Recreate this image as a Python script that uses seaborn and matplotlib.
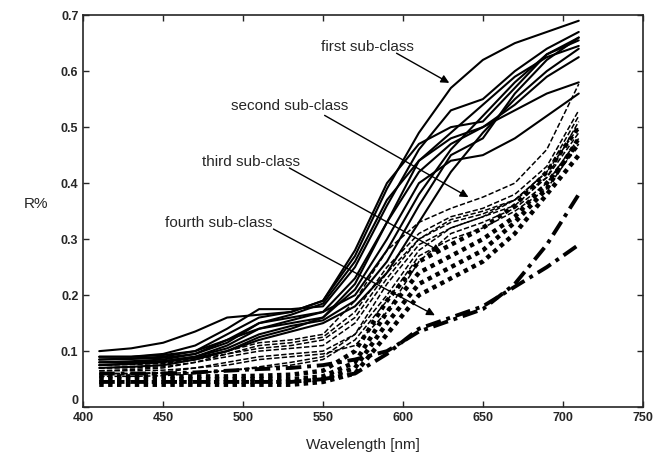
import numpy as np
import pandas as pd
import seaborn as sns
import matplotlib.pyplot as plt

sns.set_style("ticks")
plt.rcParams['font.family'] = ['Liberation Sans', 'DejaVu Sans']

# wavelengths sampled (nm)
wavelength = [410, 430, 450, 470, 490, 510, 530, 550, 570, 590, 610, 630, 650, 670, 690, 710]

# first sub-class (solid)
first_class = [
    [0.100, 0.105, 0.115, 0.135, 0.160, 0.165, 0.170, 0.190, 0.270, 0.390, 0.490, 0.570, 0.620, 0.650, 0.670, 0.690],
    [0.090, 0.090, 0.095, 0.110, 0.140, 0.175, 0.175, 0.180, 0.250, 0.360, 0.460, 0.530, 0.550, 0.600, 0.640, 0.670],
    [0.085, 0.087, 0.090, 0.100, 0.130, 0.160, 0.170, 0.190, 0.280, 0.400, 0.470, 0.500, 0.510, 0.570, 0.630, 0.660],
    [0.080, 0.082, 0.085, 0.095, 0.120, 0.150, 0.165, 0.185, 0.260, 0.370, 0.440, 0.490, 0.540, 0.590, 0.625, 0.645],
    [0.090, 0.090, 0.093, 0.100, 0.120, 0.140, 0.155, 0.170, 0.230, 0.330, 0.420, 0.470, 0.500, 0.530, 0.560, 0.580],
    [0.075, 0.078, 0.082, 0.090, 0.110, 0.140, 0.150, 0.160, 0.210, 0.300, 0.400, 0.440, 0.450, 0.480, 0.520, 0.560],
    [0.085, 0.086, 0.088, 0.095, 0.115, 0.150, 0.160, 0.170, 0.200, 0.280, 0.380, 0.460, 0.520, 0.580, 0.630, 0.655],
    [0.080, 0.080, 0.082, 0.090, 0.105, 0.130, 0.145, 0.155, 0.190, 0.260, 0.360, 0.450, 0.480, 0.560, 0.620, 0.660],
    [0.070, 0.072, 0.075, 0.085, 0.100, 0.120, 0.135, 0.150, 0.180, 0.240, 0.330, 0.420, 0.490, 0.550, 0.600, 0.640],
    [0.075, 0.077, 0.080, 0.088, 0.100, 0.125, 0.140, 0.160, 0.220, 0.330, 0.440, 0.480, 0.500, 0.540, 0.590, 0.625],
]

# second sub-class (dashed)
second_class = [
    [0.070, 0.072, 0.075, 0.085, 0.100, 0.115, 0.120, 0.130, 0.190, 0.280, 0.330, 0.355, 0.375, 0.400, 0.460, 0.577],
    [0.065, 0.067, 0.070, 0.080, 0.095, 0.110, 0.115, 0.125, 0.170, 0.250, 0.310, 0.340, 0.355, 0.380, 0.430, 0.530],
    [0.070, 0.070, 0.072, 0.080, 0.090, 0.100, 0.105, 0.110, 0.150, 0.230, 0.300, 0.335, 0.350, 0.370, 0.420, 0.500],
    [0.060, 0.060, 0.062, 0.070, 0.080, 0.090, 0.095, 0.100, 0.130, 0.200, 0.280, 0.320, 0.340, 0.360, 0.410, 0.490],
    [0.065, 0.065, 0.066, 0.070, 0.075, 0.085, 0.090, 0.095, 0.110, 0.170, 0.260, 0.310, 0.330, 0.355, 0.400, 0.480],
    [0.060, 0.060, 0.060, 0.062, 0.065, 0.070, 0.075, 0.085, 0.120, 0.190, 0.270, 0.300, 0.320, 0.350, 0.390, 0.470],
    [0.075, 0.076, 0.078, 0.085, 0.095, 0.105, 0.110, 0.120, 0.160, 0.240, 0.300, 0.330, 0.345, 0.370, 0.410, 0.510],
    [0.055, 0.055, 0.056, 0.060, 0.065, 0.072, 0.080, 0.090, 0.130, 0.220, 0.290, 0.320, 0.340, 0.370, 0.420, 0.520],
]

# third sub-class (dotted)
third_class = [
    [0.050, 0.050, 0.050, 0.050, 0.050, 0.050, 0.050, 0.055, 0.080, 0.170, 0.240, 0.270, 0.300, 0.340, 0.400, 0.470],
    [0.040, 0.040, 0.040, 0.040, 0.040, 0.040, 0.040, 0.045, 0.060, 0.130, 0.200, 0.230, 0.260, 0.310, 0.380, 0.450],
    [0.055, 0.055, 0.055, 0.055, 0.055, 0.056, 0.058, 0.065, 0.100, 0.190, 0.260, 0.290, 0.320, 0.360, 0.420, 0.500],
    [0.045, 0.045, 0.045, 0.045, 0.045, 0.045, 0.046, 0.050, 0.070, 0.150, 0.220, 0.250, 0.280, 0.330, 0.390, 0.480],
]

# fourth sub-class (dash-dot)
fourth_class = [
    [0.060, 0.060, 0.060, 0.062, 0.065, 0.068, 0.070, 0.075, 0.085, 0.100, 0.135, 0.155, 0.175, 0.220, 0.290, 0.380],
    [0.045, 0.045, 0.045, 0.045, 0.045, 0.045, 0.045, 0.050, 0.060, 0.095, 0.140, 0.160, 0.180, 0.215, 0.250, 0.290],
]

labels = ['first sub-class', 'second sub-class', 'third sub-class', 'fourth sub-class']
label_pos = [(578, 0.644), (529, 0.537), (505, 0.438), (485, 0.329)]
arrow_tail = [(596, 0.632), (551, 0.521), (529, 0.427), (519, 0.318)]
arrow_head = [(629, 0.579), (641, 0.375), (624, 0.277), (620, 0.164)]

fig, ax = plt.subplots(figsize=(6.66, 4.59), dpi=100)
fig.subplots_adjust(left=0.125, right=0.965, bottom=0.113, top=0.967)

styles = [
    (first_class, '-', 1.5),
    (second_class, (0, (3.5, 1.5)), 1.1),
    (third_class, (0, (1, 1)), 3.2),
    (fourth_class, (0, (4, 1.5, 1, 1.5)), 2.8),
]
for curves, ls, lw in styles:
    for vals in curves:
        sns.lineplot(x=wavelength, y=vals, ax=ax, color='black', linestyle=ls,
                     linewidth=lw, dash_capstyle='butt')

for txt, tp, tail, head in zip(labels, label_pos, arrow_tail, arrow_head):
    ax.text(tp[0], tp[1], txt, ha='center', va='center', fontsize=11)
    ax.annotate('', xy=head, xytext=tail,
                arrowprops=dict(arrowstyle='-|>', color='black', lw=1.0,
                                mutation_scale=12, shrinkA=0, shrinkB=0))

ax.set_xlim(400, 750)
ax.set_ylim(0, 0.7)
ax.set_xticks(range(400, 751, 50))
ax.set_yticks([0, 0.1, 0.2, 0.3, 0.4, 0.5, 0.6, 0.7])
ax.set_yticklabels(['0', '0.1', '0.2', '0.3', '0.4', '0.5', '0.6', '0.7'])
ax.tick_params(direction='in', top=True, right=True, length=4, width=1,
               labelsize=9)
for lab in ax.get_xticklabels() + ax.get_yticklabels():
    lab.set_fontweight('bold')
# the "0" sits just above the axis corner, as in the original
ax.get_yticklabels()[0].set_verticalalignment('bottom')
for sp in ax.spines.values():
    sp.set_linewidth(1.2)

ax.set_xlabel('Wavelength [nm]', fontsize=11, labelpad=10)
ax.set_ylabel('R%', fontsize=11, rotation=0, labelpad=18)

fig.savefig('out.png', dpi=100)
